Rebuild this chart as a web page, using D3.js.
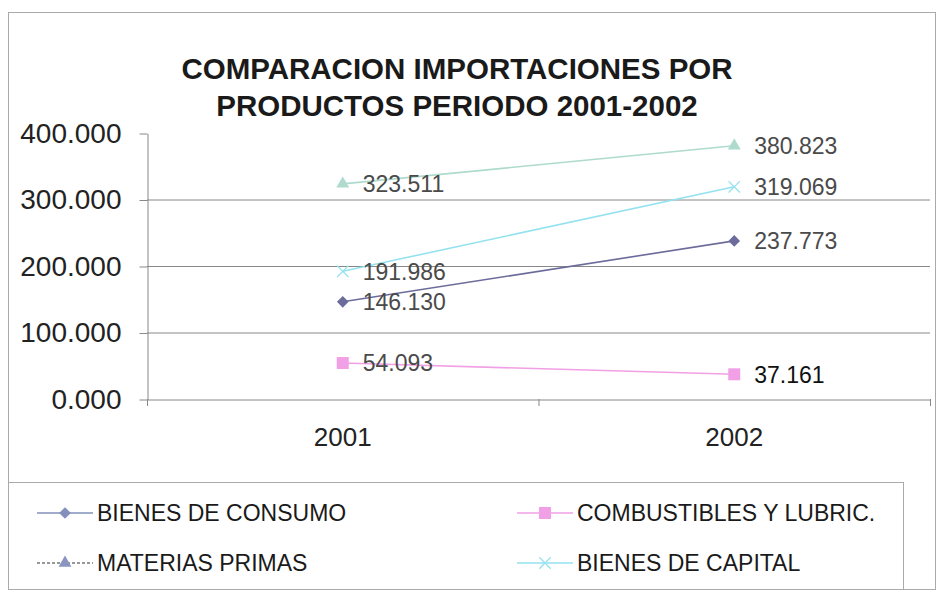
<!DOCTYPE html>
<html>
<head>
<meta charset="utf-8">
<script src="https://cdn.jsdelivr.net/npm/d3@7"></script>
<style>
  body { margin: 0; background: #fff; }
  svg { display: block; font-family: "Liberation Sans", Arial, sans-serif; }
</style>
</head>
<body>
<div id="chart"></div>
<script>
/* data */
const years = ["2001", "2002"];
const seriesNames = ["BIENES DE CONSUMO", "COMBUSTIBLES Y LUBRIC.", "MATERIAS PRIMAS", "BIENES DE CAPITAL"];
const consumo = [146.130, 237.773];
const combustibles = [54.093, 37.161];
const materias = [323.511, 380.823];
const capital = [191.986, 319.069];
const yTicks = [0, 100, 200, 300, 400];

const series = [
    { name: seriesNames[0], values: consumo, color: "#6c6c9c", legendColor: "#8290bb", marker: "diamond" },
    { name: seriesNames[1], values: combustibles, color: "#f2a0e6", legendColor: "#f2a0e6", marker: "square" },
    { name: seriesNames[2], values: materias, color: "#aedbce", legendColor: "#8a96c0", marker: "triangle", legendDash: "3,2", legendLine: "#777" },
    { name: seriesNames[3], values: capital, color: "#94e2f0", legendColor: "#94e2f0", marker: "cross" }
];

/* svg size */
const width = 938;
const height = 592;

const svg = d3.select("#chart").append("svg")
    .attr("width", width)
    .attr("height", height);

/* outer frame */
svg.append("rect")
    .attr("x", 8.5).attr("y", 12.5)
    .attr("width", 927).attr("height", 577)
    .attr("fill", "none")
    .attr("stroke", "#aaa");

/* title */
svg.append("text")
    .attr("x", 457).attr("y", 79)
    .attr("text-anchor", "middle")
    .attr("font-size", 29.5).attr("font-weight", "bold").attr("fill", "#1a1a1a")
    .text("COMPARACION IMPORTACIONES POR");
svg.append("text")
    .attr("x", 457).attr("y", 116)
    .attr("text-anchor", "middle")
    .attr("font-size", 29.5).attr("font-weight", "bold").attr("fill", "#1a1a1a")
    .text("PRODUCTOS PERIODO 2001-2002");

/* scales */
const x = d3.scaleBand().domain(years).range([147, 930]);
const y = d3.scaleLinear().domain([0, 400]).range([399, 133]);

/* gridlines */
svg.append("g")
    .selectAll("line")
    .data(yTicks.slice(1, 4))
    .enter().append("line")
    .attr("x1", 147).attr("x2", 930)
    .attr("y1", d => y(d) + 0.5).attr("y2", d => y(d) + 0.5)
    .attr("stroke", "#888");

/* y axis */
const yAxis = d3.axisLeft(y)
    .tickValues(yTicks)
    .tickFormat(d => d + ".000")
    .tickSize(8)
    .tickPadding(18)
    .tickSizeOuter(0);

const yG = svg.append("g")
    .attr("transform", "translate(147.5,0.5)")
    .call(yAxis);
yG.select(".domain").attr("stroke", "#888");
yG.selectAll(".tick line").attr("stroke", "#888");
yG.selectAll(".tick text")
    .attr("font-size", 28).attr("fill", "#222").attr("font-family", "Liberation Sans, Arial, sans-serif");

/* x axis */
const xAxis = d3.axisBottom(x)
    .tickSize(0)
    .tickPadding(28)
    .tickSizeOuter(0);
const xG = svg.append("g")
    .attr("transform", "translate(0,399.5)")
    .call(xAxis);
xG.select(".domain").attr("stroke", "#888");
xG.selectAll(".tick text")
    .attr("font-size", 26).attr("fill", "#222").attr("font-family", "Liberation Sans, Arial, sans-serif");
/* category separators */
svg.append("g").selectAll("line")
    .data([147, 147 + x.step(), 930])
    .enter().append("line")
    .attr("x1", d => d + 0.5).attr("x2", d => d + 0.5)
    .attr("y1", 399).attr("y2", 406)
    .attr("stroke", "#888");

/* marker drawing */
function drawMarker(g, type, color, size) {
    if (type === "diamond") {
        g.append("path").attr("d", d3.symbol(d3.symbolDiamond2, size * size * 0.6)).attr("fill", color);
    } else if (type === "square") {
        g.append("rect").attr("x", -size / 2).attr("y", -size / 2)
            .attr("width", size).attr("height", size).attr("fill", color);
    } else if (type === "triangle") {
        g.append("path").attr("d", d3.symbol(d3.symbolTriangle, size * size * 0.5)).attr("fill", color);
    } else {
        g.append("path").attr("d", d3.symbol(d3.symbolX, size * size * 0.6))
            .attr("fill", "none").attr("stroke", color).attr("stroke-width", 1.3);
    }
}

const cx = d => x(d) + x.bandwidth() / 2;

/* lines */
const line = d3.line()
    .x((d, i) => cx(years[i]))
    .y(d => y(d));

series.forEach(s => {
    svg.append("path")
        .datum(s.values)
        .attr("d", line)
        .attr("fill", "none")
        .attr("stroke", s.color)
        .attr("stroke-width", 1.6);
});

/* markers and labels */
series.forEach(s => {
    s.values.forEach((v, i) => {
        const g = svg.append("g").attr("transform", "translate(" + cx(years[i]) + "," + y(v) + ")");
        drawMarker(g, s.marker, s.color, 12);
        svg.append("text")
            .attr("x", cx(years[i]) + 20)
            .attr("y", y(v))
            .attr("dy", "0.36em")
            .attr("font-size", 23)
            .attr("fill", s.marker === "square" && i === 1 ? "#111" : "#4a4a4a")
            .text(d3.format(".3f")(v));
    });
});

/* legend */
svg.append("rect")
    .attr("x", 8.5).attr("y", 482.5)
    .attr("width", 895).attr("height", 107)
    .attr("fill", "none")
    .attr("stroke", "#aaa");

const legendPos = [[37, 513], [517, 513], [37, 563], [517, 563]];
series.forEach((s, i) => {
    const lx = legendPos[i][0], ly = legendPos[i][1];
    const lg = svg.append("g").attr("transform", "translate(" + lx + "," + ly + ")");
    lg.append("line")
        .attr("x1", 0).attr("x2", 56)
        .attr("stroke", s.legendLine || s.legendColor)
        .attr("stroke-width", 1.6)
        .attr("stroke-dasharray", s.legendDash || null);
    const mg = lg.append("g").attr("transform", "translate(28,0)");
    drawMarker(mg, s.marker, s.legendColor, 12);
    lg.append("text")
        .attr("x", 60)
        .attr("dy", "0.36em")
        .attr("font-size", 23)
        .attr("fill", "#1a1a1a")
        .text(s.name);
});
</script>
</body>
</html>
